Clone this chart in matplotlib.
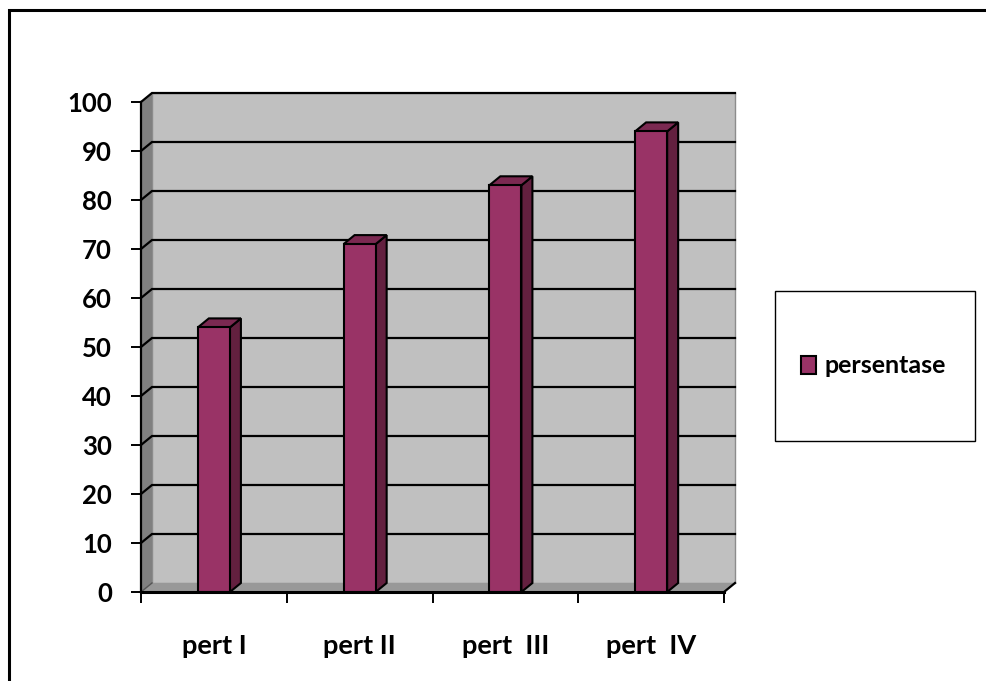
import matplotlib
matplotlib.use("Agg")
import matplotlib.pyplot as plt
from matplotlib.patches import Polygon, Rectangle
import numpy as np

# chart data
categories = ["pert I", "pert II", "pert  III", "pert  IV"]
persentase = [54, 71, 83, 94]
y_ticks = [0, 10, 20, 30, 40, 50, 60, 70, 80, 90, 100]

# colours (excel-like 3d column chart)
c_front = "#993366"
c_side = "#63203f"
c_top = "#7b2951"
c_wall = "#c0c0c0"
c_side_wall = "#808080"
c_floor = "#989898"

plt.rcParams["font.family"] = ["Lato", "DejaVu Sans"]
plt.rcParams["font.weight"] = "bold"

W, H = 986, 681
fig = plt.figure(figsize=(W / 100, H / 100), dpi=100)

# front plane of the plot in pixels
x0_px, x1_px, y0_px, y1_px = 141, 724, 592, 102
ax = fig.add_axes([x0_px / W, 1 - y0_px / H, (x1_px - x0_px) / W, (y0_px - y1_px) / H])
ax.set_xlim(-0.5, len(categories) - 0.5)
ax.set_ylim(0, 100)
ax.patch.set_visible(False)

# depth of the 3d effect, converted from pixels to data units
ppx = (x1_px - x0_px) / len(categories)
ppy = (y0_px - y1_px) / 100.0
DX = 11 / ppx
DY = 9 / ppy

xa, xb = -0.5, len(categories) - 0.5

# back wall, side wall and floor
ax.add_patch(Rectangle((xa + DX, DY), xb - xa, 100, facecolor=c_wall,
                       edgecolor="#8c8c8c", lw=1, clip_on=False, zorder=0))
ax.add_patch(Polygon([(xa, 0), (xa + DX, DY), (xa + DX, 100 + DY), (xa, 100)],
                     closed=True, facecolor=c_side_wall, edgecolor="none",
                     clip_on=False, zorder=0.5))
ax.add_patch(Polygon([(xa, 0), (xa + DX, DY), (xb + DX, DY), (xb, 0)],
                     closed=True, facecolor=c_floor, edgecolor="none",
                     clip_on=False, zorder=0.5))

# gridlines running across the side wall and the back wall
for v in y_ticks[1:]:
    ax.plot([xa, xa + DX, xb + DX], [v, v + DY, v + DY], color="black",
            lw=1.6, clip_on=False, zorder=1, solid_joinstyle="miter")
ax.plot([xa, xa + DX], [0, DY], color="#555555", lw=1, clip_on=False, zorder=1)
ax.plot([xb, xb + DX], [0, DY], color="black", lw=1.6, clip_on=False, zorder=4)

# columns
x = np.arange(len(categories))
w = 0.22
ax.bar(x, persentase, width=w, color=c_front, edgecolor="black", lw=1.5,
       zorder=3, label="persentase")
for xi, v in zip(x, persentase):
    l, r = xi - w / 2, xi + w / 2
    ax.add_patch(Polygon([(r, 0), (r + DX, DY), (r + DX, v + DY), (r, v)],
                         closed=True, facecolor=c_side, edgecolor="black",
                         lw=1.5, zorder=2.9, clip_on=False, joinstyle="miter"))
    ax.add_patch(Polygon([(l, v), (l + DX, v + DY), (r + DX, v + DY), (r, v)],
                         closed=True, facecolor=c_top, edgecolor="black",
                         lw=1.5, zorder=2.9, clip_on=False, joinstyle="miter"))

# axes
for s in ["top", "right"]:
    ax.spines[s].set_visible(False)
ax.spines["left"].set_linewidth(1.6)
ax.spines["bottom"].set_linewidth(2.2)
ax.spines["left"].set_zorder(4)
ax.spines["bottom"].set_zorder(4)

ax.set_yticks(y_ticks)
ax.tick_params(axis="y", length=7, width=1.4, pad=14, labelsize=18.5)

ax.set_xticks(np.arange(len(categories) + 1) - 0.5)
ax.set_xticklabels([])
ax.tick_params(axis="x", which="major", length=8, width=1.4)
ax.set_xticks(x, minor=True)
ax.set_xticklabels(categories, minor=True)
ax.tick_params(axis="x", which="minor", length=0, pad=30, labelsize=19.5)

# legend with a square frame at the right
fig.patches.append(Rectangle((775 / W, 1 - 441 / H), 200 / W, 150 / H,
                             transform=fig.transFigure, facecolor="white",
                             edgecolor="black", lw=1))
leg = fig.legend(loc="center left", bbox_to_anchor=(801 / W, 1 - 366 / H),
                 frameon=False, handlelength=0.6, handleheight=0.75,
                 handletextpad=0.35, borderpad=0, borderaxespad=0,
                 prop={"size": 18, "weight": "bold"})

# outer border
fig.patches.append(Rectangle((9 / W, -0.2), 1.2, 1 - 10 / H + 0.2,
                             transform=fig.transFigure, facecolor="none",
                             edgecolor="black", lw=2.2))

fig.savefig("out.png", dpi=100)
